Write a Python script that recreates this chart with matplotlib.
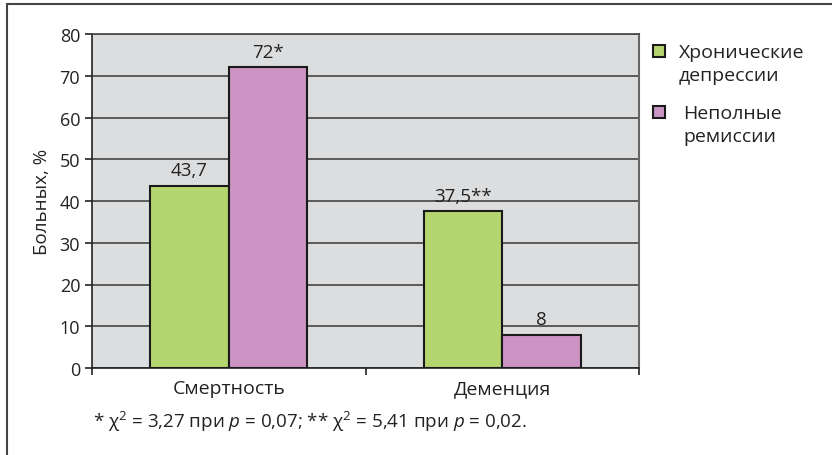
import numpy as np
from matplotlib import pyplot as plt
from matplotlib.patches import Rectangle

# Данные
categories = ["Смертность", "Деменция"]
series_names = ["Хронические\nдепрессии", "Неполные\nремиссии"]
chronic = [43.7, 37.5]
incomplete = [72, 8]
chronic_labels = ["43,7", "37,5**"]
incomplete_labels = ["72*", "8"]
yticks = [0, 10, 20, 30, 40, 50, 60, 70, 80]

green = "#b5d56f"
pink = "#cc94c4"
txt = "#222222"

plt.rcParams["font.family"] = ["Open Sans", "DejaVu Sans"]
plt.rcParams["mathtext.fontset"] = "custom"
plt.rcParams["mathtext.rm"] = "Open Sans"
plt.rcParams["mathtext.it"] = "Open Sans:italic"

fig = plt.figure(figsize=(8.32, 4.56), dpi=100)
ax = fig.add_axes([92 / 832, 1 - 369 / 456, (639 - 92) / 832, (369 - 35) / 456])

# рамка вокруг рисунка (видны только верх и левый край)
fig.patches.append(Rectangle((7 / 832, -0.1), 1.2, 1 - 5 / 456 + 0.1,
                             transform=fig.transFigure, fill=False,
                             edgecolor="#444444", linewidth=1.5))

x = np.arange(len(categories))
w = 0.287
b1 = ax.bar(x - w / 2, chronic, w, color=green, edgecolor="#1a1a1a", linewidth=1.5, zorder=3)
b2 = ax.bar(x + w / 2, incomplete, w, color=pink, edgecolor="#1a1a1a", linewidth=1.5, zorder=3)

for bars, labels in [(b1, chronic_labels), (b2, incomplete_labels)]:
    for rect, lab in zip(bars, labels):
        ax.text(rect.get_x() + rect.get_width() / 2, rect.get_height() + 1.6, lab,
                ha="center", va="bottom", fontsize=13.5, color=txt)

ax.set_facecolor("#dcdddf")
ax.set_xlim(-0.5, 1.5)
ax.set_ylim(0, 80)
ax.set_yticks(yticks)
ax.tick_params(axis="y", labelsize=13, length=5, width=1.2, colors=txt)
ax.yaxis.grid(True, color="#444444", linewidth=1.2, zorder=1)
ax.set_axisbelow(True)

ax.set_xticks([-0.5, 0.5, 1.5])
ax.set_xticklabels([])
ax.tick_params(axis="x", length=5, width=1.2, colors=txt)
ax.set_xticks(x, minor=True)
ax.set_xticklabels(categories, minor=True)
ax.tick_params(axis="x", which="minor", length=0, labelsize=14, pad=8, colors=txt)

ax.set_ylabel("Больных, %", fontsize=13.5, color=txt, labelpad=6)

for s in ["left", "bottom"]:
    ax.spines[s].set_color("#222222")
    ax.spines[s].set_linewidth(1.2)
ax.spines["top"].set_color("#444444")
ax.spines["top"].set_linewidth(1.2)
ax.spines["right"].set_color("#666666")
ax.spines["right"].set_linewidth(1.5)

# легенда: квадрат на уровне первой строки подписи
leg_y = [52, 113]
leg_tx = [679, 683]
for bars, name, y, tx in zip([b1, b2], series_names, leg_y, leg_tx):
    fig.patches.append(Rectangle((653 / 832, 1 - (y + 6) / 456), 12 / 832, 12 / 456,
                                 transform=fig.transFigure,
                                 facecolor=bars[0].get_facecolor(),
                                 edgecolor="#1a1a1a", linewidth=1.5))
    fig.text(tx / 832, 1 - (y - 8) / 456, name, fontsize=14, color=txt,
             ha="left", va="top", linespacing=1.35)

fig.text(93 / 832, 1 - 422 / 456,
         "* χ$^2$ = 3,27 при $p$ = 0,07; ** χ$^2$ = 5,41 при $p$ = 0,02.",
         fontsize=13.5, va="center", ha="left", color=txt)

plt.savefig("out.png", dpi=100)
